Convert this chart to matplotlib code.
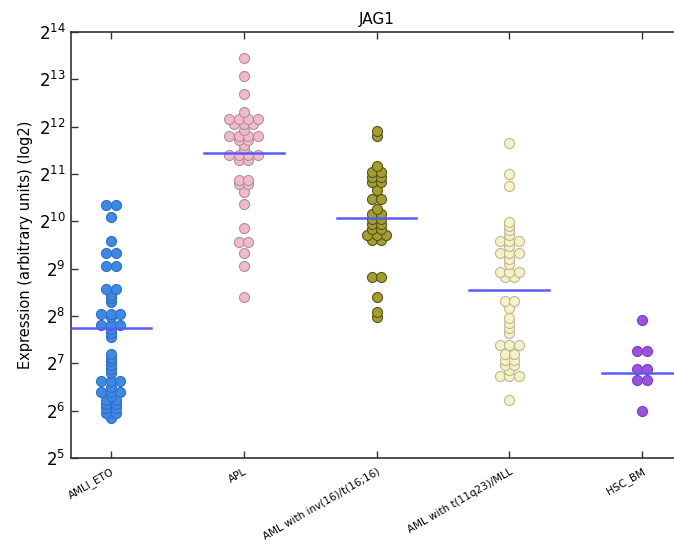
import numpy as np
import matplotlib
matplotlib.use("Agg")
import matplotlib.pyplot as plt
from matplotlib.ticker import FixedLocator, LogFormatterMathtext, NullLocator

categories = ["AMLI_ETO", "APL", "AML with inv(16)/t(16;16)",
              "AML with t(11q23)/MLL", "HSC_BM"]

# log2 expression values (points with equal value form one swarm row)
aml_eto = [10.35, 10.35, 10.10, 9.58, 9.33, 9.33, 9.05, 9.05, 8.56, 8.56,
           8.45, 8.37, 8.29, 8.05, 8.05, 8.05, 7.98, 7.80, 7.80, 7.80, 7.72,
           7.64, 7.55, 7.20, 7.12, 7.04, 6.96, 6.88, 6.80, 6.62, 6.62, 6.62,
           6.50, 6.40, 6.40, 6.40, 6.30, 6.22, 6.22, 6.14, 6.14, 6.05, 6.05,
           5.96, 5.96, 5.85]
apl = [13.45, 13.08, 12.68, 12.31, 12.17, 12.17, 12.17, 12.17, 12.06, 12.06,
       12.06, 11.93, 11.81, 11.81, 11.81, 11.81, 11.71, 11.71, 11.61, 11.53,
       11.40, 11.40, 11.40, 11.40, 11.29, 11.29, 10.88, 10.88, 10.78, 10.78,
       10.62, 10.36, 9.85, 9.57, 9.57, 9.33, 9.05, 8.40]
inv16 = [11.91, 11.81, 11.17, 11.05, 11.05, 10.94, 10.94, 10.84, 10.84, 10.66,
         10.48, 10.48, 10.26, 10.15, 10.15, 10.05, 10.05, 9.94, 9.94, 9.84,
         9.84, 9.72, 9.72, 9.72, 9.60, 9.60, 8.83, 8.83, 8.40, 8.09, 7.97]
mll = [11.65, 11.01, 10.74, 9.99, 9.90, 9.81, 9.72, 9.59, 9.59, 9.59, 9.47,
       9.34, 9.34, 9.34, 9.20, 9.09, 8.94, 8.94, 8.94, 8.83, 8.83, 8.31, 8.31,
       8.17, 7.95, 7.85, 7.75, 7.65, 7.38, 7.38, 7.38, 7.20, 7.20, 7.08, 7.08,
       6.96, 6.96, 6.85, 6.73, 6.73, 6.73, 6.23]
hsc_bm = [7.91, 7.26, 7.26, 6.87, 6.87, 6.64, 6.64, 5.99]
groups = [aml_eto, apl, inv16, mll, hsc_bm]

# group means (log2)
means = [7.74, 11.44, 10.06, 8.54, 6.80]

face_colors = ["#3d8ae6", "#f6b9c9", "#a59e2e", "#f6f1c6", "#9b52e0"]
edge_colors = ["#2e6fc4", "#a8949a", "#55551a", "#bdb893", "#7a3cc0"]

fig = plt.figure(figsize=(6.74, 5.53), dpi=100)
ax = fig.add_axes([71 / 674, 1 - 458 / 553, 611 / 674, 426 / 553])

ax.set_yscale("log", base=2)
ax.set_ylim(2 ** 5, 2 ** 14)
ax.set_xlim(-0.3, 4.3)

d = 0.072  # horizontal spacing in data units (≈ marker diameter)
for i, (vals, fc, ec) in enumerate(zip(groups, face_colors, edge_colors)):
    vals = np.array(vals)
    xs, ys = [], []
    for v in np.unique(vals):
        n = int(np.sum(vals == v))
        for k in range(n):
            xs.append(i + (k - (n - 1) / 2) * d)
            ys.append(2 ** v)
    ax.scatter(xs, ys, s=52, facecolor=fc, edgecolor=ec, linewidth=0.8,
               zorder=3)
    ax.plot([i - 0.3, i + 0.3], [2 ** means[i]] * 2, color="#5b5bf5",
            lw=1.8, zorder=4)

ax.yaxis.set_major_locator(FixedLocator([2 ** k for k in range(5, 15)]))
ax.yaxis.set_major_formatter(LogFormatterMathtext(base=2))
ax.yaxis.set_minor_locator(NullLocator())
ax.set_xticks(range(len(categories)))
ax.set_xticklabels(categories, rotation=30, ha="right", fontsize=7.5,
                   rotation_mode="anchor")
ax.tick_params(axis="both", direction="in", top=True, right=True,
               length=5, width=1, color="#333333")
ax.tick_params(axis="y", labelsize=12, pad=4)
ax.tick_params(axis="x", pad=6)
for sp in ax.spines.values():
    sp.set_color("#333333")
    sp.set_linewidth(1.2)

ax.set_title("JAG1", fontsize=11, pad=6)
ax.set_ylabel("Expression (arbitrary units) (log2)", fontsize=10.5)

fig.savefig("out.png", dpi=100)
